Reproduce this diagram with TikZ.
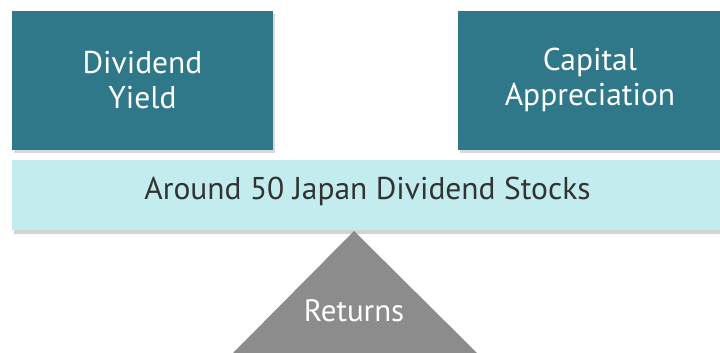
\documentclass[tikz,border=0pt]{standalone}
\usepackage{fontspec}
\setmainfont{PT Sans}
\usetikzlibrary{shadows,calc}
\definecolor{teal1}{HTML}{2E7889}
\definecolor{cyanbar}{HTML}{C2ECEE}
\definecolor{graytri}{HTML}{8C8C8C}
\definecolor{bartext}{HTML}{333333}
\tikzset{
  topbox/.style={fill=teal1, draw=none, drop shadow={shadow xshift=2pt, shadow yshift=-3pt, opacity=0.3}},
  barbox/.style={fill=cyanbar, draw=none, drop shadow={shadow xshift=2pt, shadow yshift=-4pt, opacity=0.35}},
  boxtext/.style={text=white, font=\fontsize{31.5}{35}\selectfont, align=center},
}
\begin{document}
\begin{tikzpicture}[x=1pt,y=-1pt]
\useasboundingbox (0,0) rectangle (720,353);
\fill[graytri] (354,231) -- (477,353) -- (233,353) -- cycle;
\path[topbox] (12,11) rectangle (273,150);
\path[topbox] (458,11) rectangle (740,150);
\path[barbox] (12,160) rectangle (740,230);
\node[boxtext] (dy) at (142.5,80) {Dividend\\Yield};
\node[boxtext] (ca) at (590,80) {Capital\\Appreciation};
\node[text=bartext, font=\fontsize{31.5}{35}\selectfont] (bar) at (367.5,191) {Around 50 Japan Dividend Stocks};
\node[text=white, font=\fontsize{31}{35}\selectfont] (ret) at (354,311) {Returns};
\end{tikzpicture}
\end{document}
